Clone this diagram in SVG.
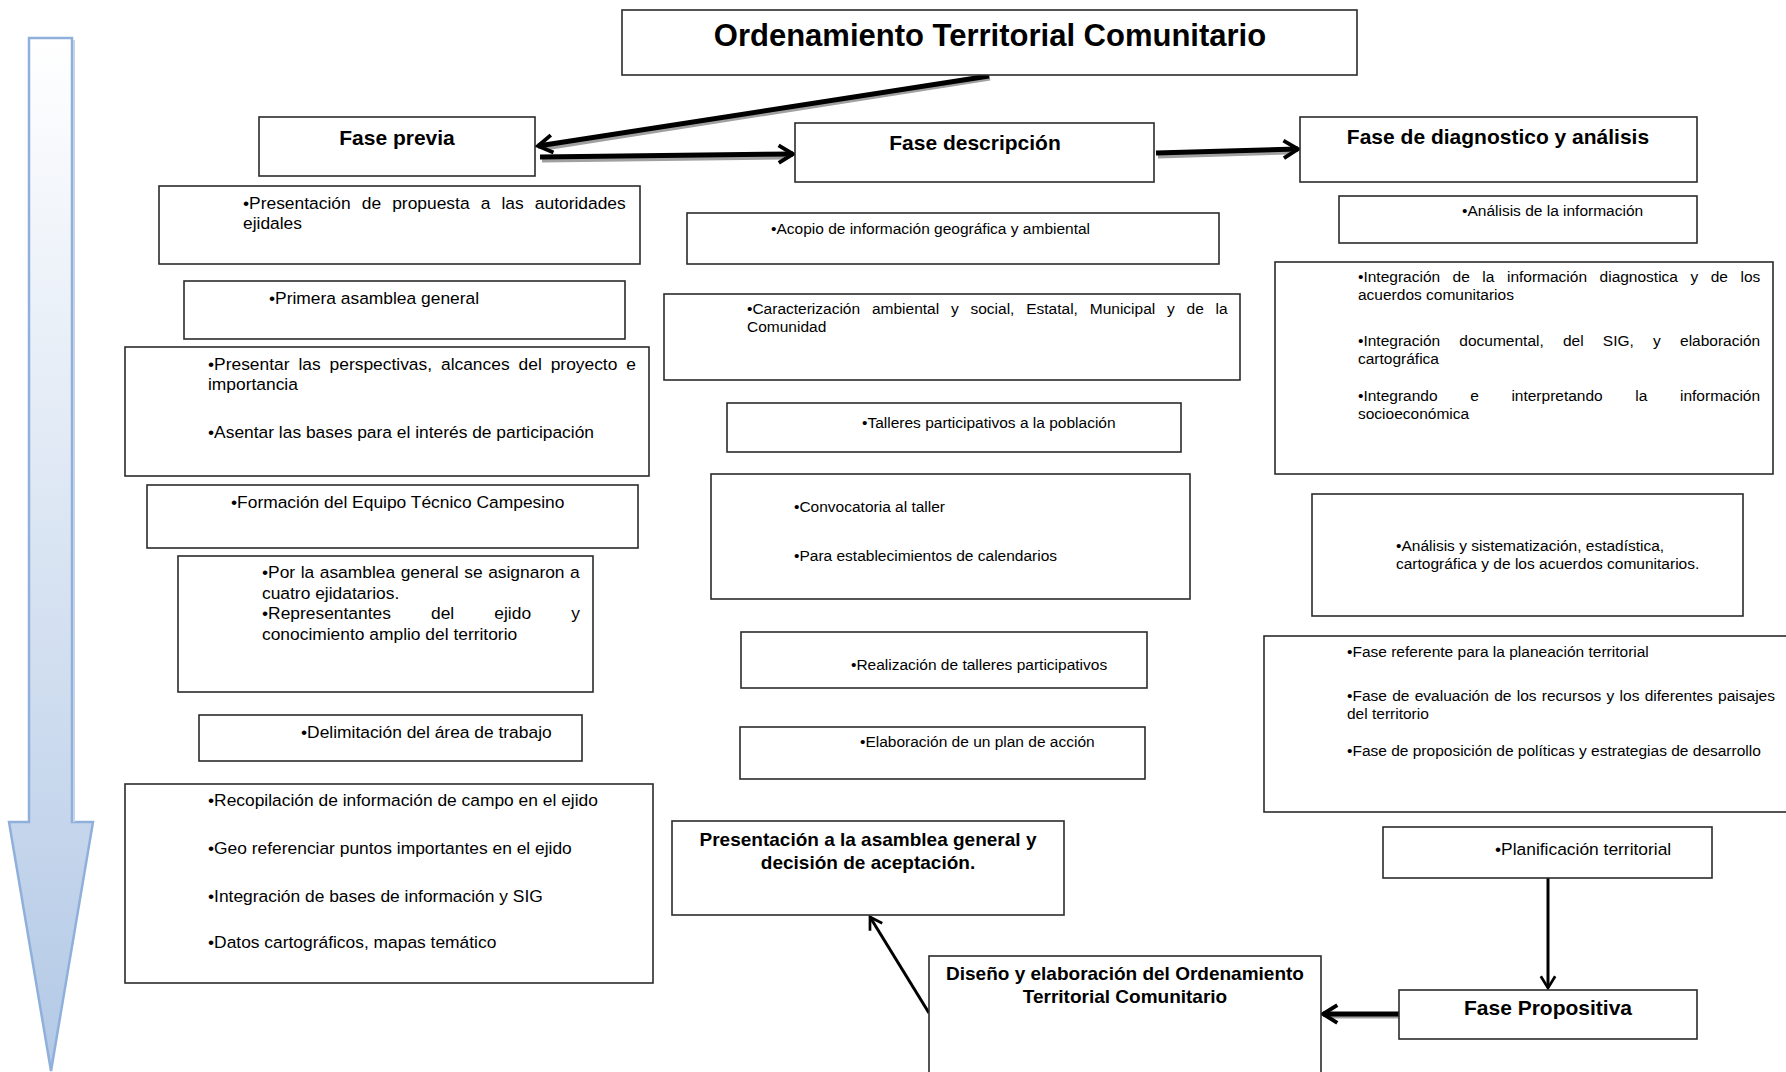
<svg xmlns="http://www.w3.org/2000/svg" width="1786" height="1072" viewBox="0 0 1786 1072">
<style>
  .box { fill: #ffffff; stroke: #2b2b2b; stroke-width: 1.6; }
  .t17 { font-family: "Liberation Sans", Arial, sans-serif; font-size: 17.4px; fill: #000; }
  .t15 { font-family: "Liberation Sans", Arial, sans-serif; font-size: 15.5px; fill: #000; }
  .h { font-family: "Liberation Sans", Arial, sans-serif; font-weight: bold; fill: #000; text-anchor: middle; }
  .thick { stroke: #000; stroke-width: 5; fill: none; }
  .thin { stroke: #000; stroke-width: 3; fill: none; }
  .shadow { stroke: #a0a0a0; stroke-width: 5; fill: none; }
</style>
<defs>
  <linearGradient id="bigArrowGrad" x1="0" y1="0" x2="0" y2="1">
    <stop offset="0" stop-color="#ffffff"/>
    <stop offset="1" stop-color="#b3c9e6"/>
  </linearGradient>
  <marker id="head" viewBox="0 0 20 20" refX="17" refY="10" markerWidth="22" markerHeight="22" markerUnits="userSpaceOnUse" orient="auto">
    <path d="M4,2 L17,10 L4,18" fill="none" stroke="#000" stroke-width="3.5"/>
  </marker>
  <marker id="headS" viewBox="0 0 20 20" refX="17" refY="10" markerWidth="18" markerHeight="18" markerUnits="userSpaceOnUse" orient="auto">
    <path d="M4,2 L17,10 L4,18" fill="none" stroke="#000" stroke-width="3"/>
  </marker>
</defs>

<rect width="1786" height="1072" fill="#ffffff"/>

<!-- big timeline arrow -->
<g id="timeline-arrow">
  <path d="M29,38 L72,38 L72,822 L93,822 L51,1071 L9,822 L29,822 Z" fill="url(#bigArrowGrad)" stroke="#8fb0da" stroke-width="2.5"/>
  <path d="M74,40 L74,822" stroke="#c5d4e8" stroke-width="2" fill="none"/>
</g>

<!-- connectors -->
<g id="connectors">
  <line x1="990" y1="78" x2="545" y2="148" class="shadow"/>
  <line x1="542" y1="160" x2="785" y2="157" class="shadow"/>
  <line x1="1158" y1="156" x2="1290" y2="152" class="shadow"/>
  <line x1="989" y1="76" x2="538" y2="146" class="thick" marker-end="url(#head)"/>
  <line x1="540" y1="157" x2="793" y2="154" class="thick" marker-end="url(#head)"/>
  <line x1="1156" y1="153" x2="1298" y2="149" class="thick" marker-end="url(#head)"/>
  <line x1="1548" y1="878" x2="1548" y2="988" class="thin" stroke-width="2.5" marker-end="url(#headS)"/>
  <line x1="1399" y1="1016" x2="1330" y2="1016" class="shadow" stroke-width="4"/>
  <line x1="1399" y1="1014" x2="1323" y2="1014" class="thick" stroke-width="4.5" marker-end="url(#head)"/>
  <line x1="929" y1="1013" x2="870" y2="917" class="thin" marker-end="url(#headS)"/>
</g>

<!-- title -->
<g id="title">
  <rect class="box" x="622" y="10" width="735" height="65"/>
  <text class="h" x="990" y="46" font-size="31">Ordenamiento Territorial Comunitario</text>
</g>

<!-- phase headers -->
<g id="fase-previa">
  <rect class="box" x="259" y="117" width="276" height="59"/>
  <text class="h" x="397" y="145" font-size="21">Fase previa</text>
</g>
<g id="fase-descripcion">
  <rect class="box" x="795" y="123" width="359" height="59"/>
  <text class="h" x="975" y="150" font-size="21">Fase descripción</text>
</g>
<g id="fase-diagnostico">
  <rect class="box" x="1300" y="117" width="397" height="65"/>
  <text class="h" x="1498" y="144" font-size="21">Fase de diagnostico y análisis</text>
</g>

<!-- left column -->
<g id="previa-1">
  <rect class="box" x="159" y="186" width="481" height="78"/>
  <text class="t17" x="243" y="209" word-spacing="6.3">•Presentación de propuesta a las autoridades</text>
  <text class="t17" x="243" y="229">ejidales</text>
</g>
<g id="previa-2">
  <rect class="box" x="184" y="281" width="441" height="58"/>
  <text class="t17" x="269" y="304">•Primera asamblea general</text>
</g>
<g id="previa-3">
  <rect class="box" x="125" y="347" width="524" height="129"/>
  <text class="t17" x="208" y="370" word-spacing="4.1">•Presentar las perspectivas, alcances del proyecto e</text>
  <text class="t17" x="208" y="390">importancia</text>
  <text class="t17" x="208" y="438">•Asentar las bases para el interés de participación</text>
</g>
<g id="previa-4">
  <rect class="box" x="147" y="485" width="491" height="63"/>
  <text class="t17" x="231" y="508">•Formación del Equipo Técnico Campesino</text>
</g>
<g id="previa-5">
  <rect class="box" x="178" y="556" width="415" height="136"/>
  <text class="t17" x="262" y="578" word-spacing="0.7">•Por la asamblea general se asignaron a</text>
  <text class="t17" x="262" y="599">cuatro ejidatarios.</text>
  <text class="t17" x="262" y="619" word-spacing="35.3">•Representantes del ejido y</text>
  <text class="t17" x="262" y="640">conocimiento amplio del territorio</text>
</g>
<g id="previa-6">
  <rect class="box" x="199" y="715" width="383" height="46"/>
  <text class="t17" x="301" y="738">•Delimitación del área de trabajo</text>
</g>
<g id="previa-7">
  <rect class="box" x="125" y="784" width="528" height="199"/>
  <text class="t17" x="208" y="806">•Recopilación de información de campo en el ejido</text>
  <text class="t17" x="208" y="854">•Geo referenciar puntos importantes en el ejido</text>
  <text class="t17" x="208" y="902">•Integración de bases de información y SIG</text>
  <text class="t17" x="208" y="948">•Datos cartográficos, mapas temático</text>
</g>

<!-- middle column -->
<g id="desc-1">
  <rect class="box" x="687" y="213" width="532" height="51"/>
  <text class="t15" x="771" y="234">•Acopio de información geográfica y ambiental</text>
</g>
<g id="desc-2">
  <rect class="box" x="664" y="294" width="576" height="86"/>
  <text class="t15" x="747" y="314" word-spacing="7.5">•Caracterización ambiental y social,  Estatal, Municipal y de la</text>
  <text class="t15" x="747" y="332">Comunidad</text>
</g>
<g id="desc-3">
  <rect class="box" x="727" y="403" width="454" height="49"/>
  <text class="t15" x="862" y="428">•Talleres participativos a la población</text>
</g>
<g id="desc-4">
  <rect class="box" x="711" y="474" width="479" height="125"/>
  <text class="t15" x="794" y="512">•Convocatoria al taller</text>
  <text class="t15" x="794" y="561">•Para establecimientos de calendarios</text>
</g>
<g id="desc-5">
  <rect class="box" x="741" y="632" width="406" height="56"/>
  <text class="t15" x="851" y="670">•Realización de talleres participativos</text>
</g>
<g id="desc-6">
  <rect class="box" x="740" y="727" width="405" height="52"/>
  <text class="t15" x="860" y="747">•Elaboración de un plan de acción</text>
</g>
<g id="presentacion">
  <rect class="box" x="672" y="821" width="392" height="94"/>
  <text class="h" x="868" y="846" font-size="19">Presentación a la asamblea general y</text>
  <text class="h" x="868" y="869" font-size="19">decisión de aceptación.</text>
</g>

<!-- right column -->
<g id="diag-1">
  <rect class="box" x="1339" y="196" width="358" height="47"/>
  <text class="t15" x="1462" y="216">•Análisis de la información</text>
</g>
<g id="diag-2">
  <rect class="box" x="1275" y="262" width="498" height="212"/>
  <text class="t15" x="1358" y="282" word-spacing="8.2">•Integración de la información diagnostica y de los</text>
  <text class="t15" x="1358" y="300">acuerdos comunitarios</text>
  <text class="t15" x="1358" y="346" word-spacing="14.9">•Integración documental, del SIG, y elaboración</text>
  <text class="t15" x="1358" y="364">cartográfica</text>
  <text class="t15" x="1358" y="401" word-spacing="28.3">•Integrando e interpretando la información</text>
  <text class="t15" x="1358" y="419">socioeconómica</text>
</g>
<g id="diag-3">
  <rect class="box" x="1312" y="494" width="431" height="122"/>
  <text class="t15" x="1396" y="551">•Análisis y sistematización, estadística,</text>
  <text class="t15" x="1396" y="569">cartográfica y de los acuerdos comunitarios.</text>
</g>
<g id="diag-4">
  <rect class="box" x="1264" y="636" width="540" height="176"/>
  <text class="t15" x="1347" y="657">•Fase referente para la planeación territorial</text>
  <text class="t15" x="1347" y="701" word-spacing="1">•Fase de evaluación de los recursos y los diferentes paisajes</text>
  <text class="t15" x="1347" y="719">del territorio</text>
  <text class="t15" x="1347" y="756">•Fase de proposición de políticas y estrategias de desarrollo</text>
</g>
<g id="planificacion">
  <rect class="box" x="1383" y="827" width="329" height="51"/>
  <text class="t17" x="1495" y="855">•Planificación territorial</text>
</g>
<g id="fase-propositiva">
  <rect class="box" x="1399" y="990" width="298" height="49"/>
  <text class="h" x="1548" y="1015" font-size="21">Fase Propositiva</text>
</g>
<g id="diseno">
  <rect class="box" x="929" y="956" width="392" height="130"/>
  <text class="h" x="1125" y="980" font-size="19">Diseño y elaboración del Ordenamiento</text>
  <text class="h" x="1125" y="1003" font-size="19">Territorial Comunitario</text>
</g>
</svg>
